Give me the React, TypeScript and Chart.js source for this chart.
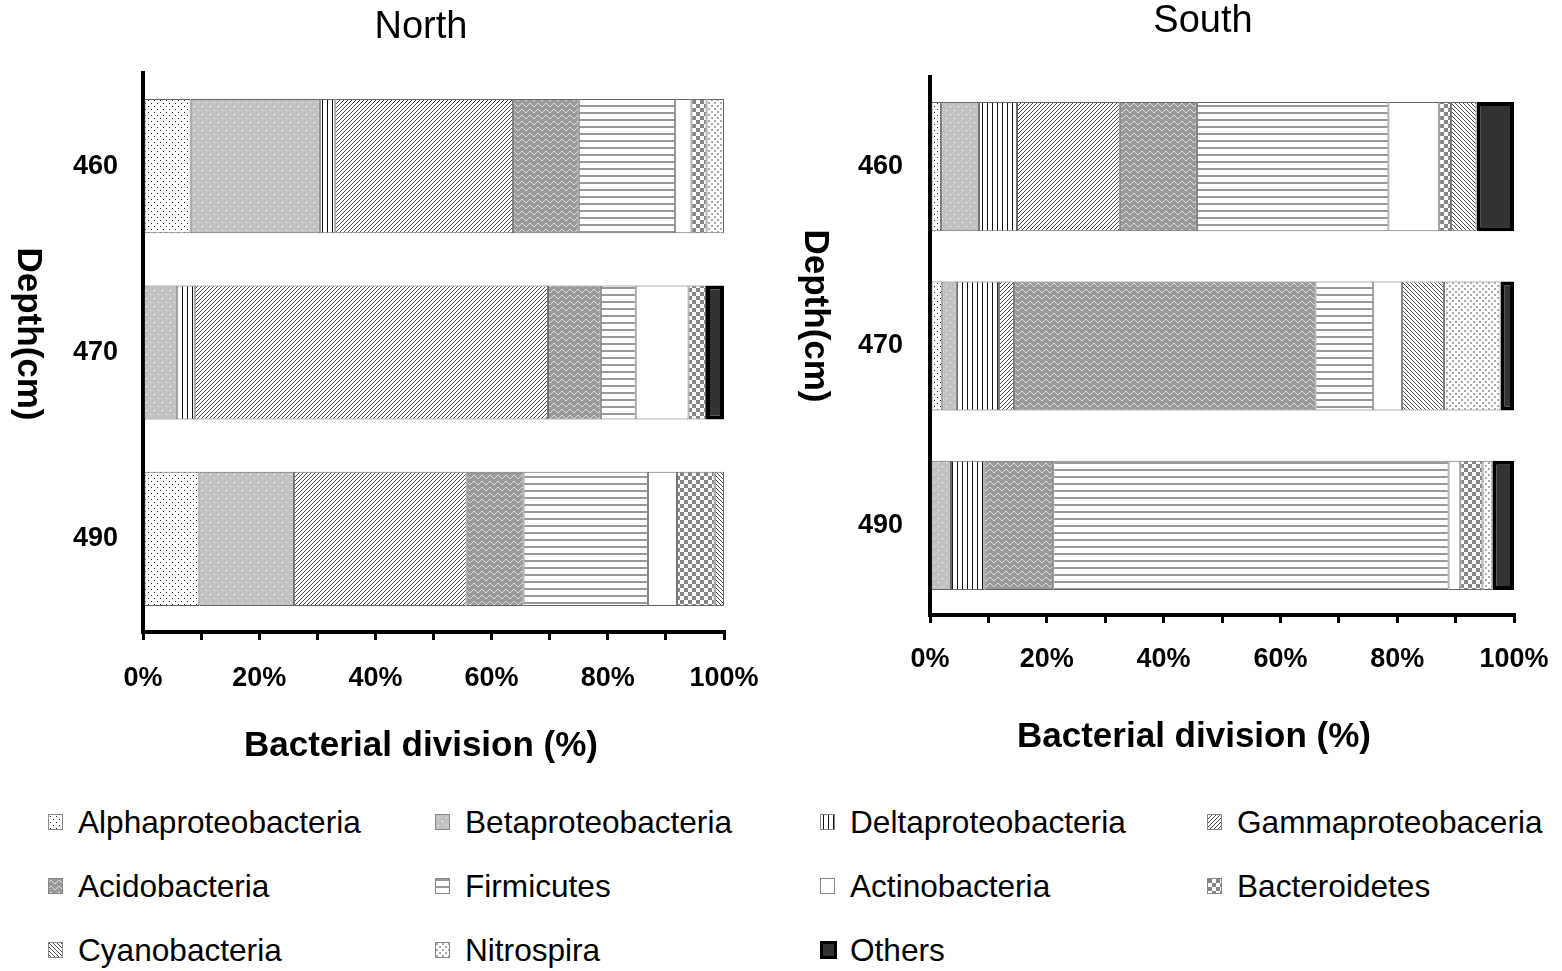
import React, { useEffect, useMemo, useRef } from 'react';
import { Chart, registerables } from 'chart.js';

Chart.register(...registerables);

const FAMILY = "'Liberation Sans', Arial, sans-serif";

// ---------- data ----------
const depthLabels = ['460', '470', '490'];
const xTickLabels = ['0%', '20%', '40%', '60%', '80%', '100%'];
const divisionNames = [
  'Alphaproteobacteria',
  'Betaproteobacteria',
  'Deltaproteobacteria',
  'Gammaproteobaceria',
  'Acidobacteria',
  'Firmicutes',
  'Actinobacteria',
  'Bacteroidetes',
  'Cyanobacteria',
  'Nitrospira',
  'Others',
];
const patternKeys = ['alpha', 'beta', 'delta', 'gamma', 'acido', 'firm', 'actino', 'bactero', 'cyano', 'nitro', 'others'];

// North, depths 460 / 470 / 490 (%)
const northAlpha = [8.2, 0, 9.7];
const northBeta = [22.3, 5.9, 16.3];
const northDelta = [2.6, 3.0, 0];
const northGamma = [30.6, 60.8, 29.7];
const northAcido = [11.3, 9.1, 9.8];
const northFirm = [16.6, 6.0, 21.4];
const northActino = [2.8, 9.1, 5.0];
const northBactero = [2.6, 3.0, 6.5];
const northCyano = [0, 0, 1.6];
const northNitro = [3.0, 0, 0];
const northOthers = [0, 3.1, 0];

// South, depths 460 / 470 / 490 (%)
const southAlpha = [1.9, 2.1, 0];
const southBeta = [6.5, 2.5, 3.6];
const southDelta = [6.5, 7.2, 5.7];
const southGamma = [17.6, 2.6, 0];
const southAcido = [13.2, 51.6, 11.8];
const southFirm = [32.8, 9.9, 67.7];
const southActino = [8.7, 4.9, 2.0];
const southBactero = [2.0, 0, 3.8];
const southCyano = [4.4, 7.2, 0];
const southNitro = [0, 9.7, 1.7];
const southOthers = [6.4, 2.3, 3.7];

const northSeries = [northAlpha, northBeta, northDelta, northGamma, northAcido, northFirm, northActino, northBactero, northCyano, northNitro, northOthers];
const southSeries = [southAlpha, southBeta, southDelta, southGamma, southAcido, southFirm, southActino, southBactero, southCyano, southNitro, southOthers];

// ---------- patterns ----------
function makeTile(key: string): HTMLCanvasElement {
  const c = document.createElement('canvas');
  const ctx = c.getContext('2d') as CanvasRenderingContext2D;
  const set = (w: number, h: number, bg: string) => {
    c.width = w;
    c.height = h;
    ctx.fillStyle = bg;
    ctx.fillRect(0, 0, w, h);
  };
  const dot = (x: number, y: number, col: string, w = 1, h = 1) => {
    ctx.fillStyle = col;
    ctx.fillRect(x, y, w, h);
  };
  switch (key) {
    case 'alpha':
      set(6, 6, '#ffffff');
      dot(1, 1, '#222');
      dot(4, 4, '#222');
      break;
    case 'beta':
      set(8, 8, '#c2c2c2');
      dot(2, 2, '#fff');
      dot(6, 6, '#fff');
      break;
    case 'delta':
      set(5, 1, '#ffffff');
      dot(2, 0, '#111');
      break;
    case 'gamma':
      set(4, 4, '#ffffff');
      for (let i = 0; i < 4; i++) dot(i, 3 - i, '#4a4a4a');
      break;
    case 'acido': {
      set(8, 6, '#9a9a9a');
      const wave = [2, 1, 1, 2, 3, 4, 4, 3];
      for (let i = 0; i < 8; i++) dot(i, wave[i], '#dadada');
      break;
    }
    case 'firm':
      set(1, 7, '#ffffff');
      dot(0, 0, '#999', 1, 2);
      break;
    case 'actino':
      set(2, 2, '#ffffff');
      break;
    case 'bactero':
      set(8, 8, '#ffffff');
      dot(0, 0, '#858585', 4, 4);
      dot(4, 4, '#858585', 4, 4);
      break;
    case 'cyano':
      set(4, 4, '#ffffff');
      for (let i = 0; i < 4; i++) dot(i, i, '#4f4f4f');
      break;
    case 'nitro':
      set(6, 6, '#ffffff');
      dot(0, 0, '#aaa', 2, 2);
      dot(3, 3, '#aaa', 2, 2);
      break;
    default:
      set(2, 2, '#333333');
  }
  return c;
}

// ---------- panel ----------
interface PanelProps {
  left: number;
  width: number;
  height: number;
  series: number[][];
  title: string;
  titleX: number;
  titleY: number;
  xTitleX: number;
  xTitleY: number;
  yTitleX: number;
  yTitleY: number;
  padTop: number;
  padRight: number;
  yAxisWidth: number;
  xAxisHeight: number;
  yLabelPad: number;
  xLabelPad: number;
}

function Panel(p: PanelProps) {
  const ref = useRef<HTMLCanvasElement>(null);
  useEffect(() => {
    const canvas = ref.current as HTMLCanvasElement;
    const ctx = canvas.getContext('2d') as CanvasRenderingContext2D;
    const datasets = divisionNames.map((name, i) => {
      const key = patternKeys[i];
      const isOthers = key === 'others';
      return {
        label: name,
        data: p.series[i],
        backgroundColor: ctx.createPattern(makeTile(key), 'repeat') as any,
        borderColor: isOthers ? '#000000' : '#666666',
        borderWidth: isOthers ? 4 : 1,
        borderSkipped: false as any,
        categoryPercentage: 1,
        barPercentage: 0.72,
      };
    });

    const textPlugin = {
      id: 'panelText',
      afterDraw(chart: any) {
        const c = chart.ctx as CanvasRenderingContext2D;
        c.save();
        c.fillStyle = '#000';
        c.textAlign = 'center';
        c.textBaseline = 'middle';
        c.font = `38px ${FAMILY}`;
        c.fillText(p.title, p.titleX, p.titleY);
        c.font = `bold 35px ${FAMILY}`;
        c.fillText('Bacterial division (%)', p.xTitleX, p.xTitleY);
        c.translate(p.yTitleX, p.yTitleY);
        c.rotate(Math.PI / 2);
        c.fillText('Depth(cm)', 0, 0);
        c.restore();
      },
    };

    const chart = new Chart(canvas, {
      type: 'bar',
      data: { labels: depthLabels, datasets: datasets as any },
      options: {
        animation: false,
        responsive: false,
        indexAxis: 'y',
        layout: { padding: { top: p.padTop, right: p.padRight, left: 0, bottom: 0 } },
        plugins: {
          legend: { display: false },
          tooltip: { enabled: false },
          title: { display: false },
        },
        scales: {
          x: {
            type: 'linear',
            stacked: true,
            min: 0,
            max: 100,
            position: 'bottom',
            ticks: {
              stepSize: 10,
              autoSkip: false,
              maxRotation: 0,
              padding: p.xLabelPad,
              color: '#000',
              font: { family: FAMILY, size: 27, weight: 'bold' },
              callback: (v: any) => (Number(v) % 20 === 0 ? xTickLabels[Number(v) / 20] : ''),
            },
            grid: {
              display: true,
              drawOnChartArea: false,
              drawTicks: true,
              tickLength: 8,
              tickWidth: 3,
              tickColor: '#000',
              color: '#000',
              lineWidth: 3,
            },
            border: { display: true, color: '#000', width: 4 },
            afterFit: (s: any) => {
              s.height = p.xAxisHeight;
              s.paddingLeft = 0;
              s.paddingRight = 0;
            },
          },
          y: {
            type: 'category',
            stacked: true,
            position: 'left',
            ticks: {
              padding: p.yLabelPad,
              color: '#000',
              font: { family: FAMILY, size: 27, weight: 'bold' },
            },
            grid: { display: false },
            border: { display: true, color: '#000', width: 4 },
            afterFit: (s: any) => {
              s.width = p.yAxisWidth;
              s.paddingTop = 0;
              s.paddingBottom = 0;
            },
          },
        },
      } as any,
      plugins: [textPlugin],
    });
    return () => chart.destroy();
  }, []);
  return (
    <canvas
      ref={ref}
      width={p.width}
      height={p.height}
      style={{ position: 'absolute', left: p.left, top: 0, width: p.width, height: p.height }}
    />
  );
}

// ---------- legend ----------
const legendColX = [48, 435, 820, 1207];
const legendRowY = [822, 886, 950];

function Legend() {
  const tiles = useMemo(() => patternKeys.map((k) => makeTile(k).toDataURL()), []);
  return (
    <>
      {divisionNames.map((name, i) => {
        const col = i % 4;
        const row = Math.floor(i / 4);
        const isOthers = patternKeys[i] === 'others';
        return (
          <div
            key={name}
            style={{
              position: 'absolute',
              left: legendColX[col],
              top: legendRowY[row] - 20,
              height: 40,
              display: 'flex',
              alignItems: 'center',
              whiteSpace: 'nowrap',
            }}
          >
            <div
              style={{
                width: isOthers ? 17 : 15,
                height: isOthers ? 18 : 16,
                backgroundImage: `url(${tiles[i]})`,
                border: isOthers ? '3px solid #000' : '1px solid #888',
                boxSizing: 'border-box',
                marginRight: isOthers ? 13 : 15,
              }}
            />
            <span style={{ fontFamily: FAMILY, fontSize: 31.6, lineHeight: '40px', color: '#000' }}>{name}</span>
          </div>
        );
      })}
    </>
  );
}

export default function App() {
  return (
    <div style={{ position: 'absolute', left: 0, top: 0, width: 1562, height: 971, background: '#fff', overflow: 'hidden' }}>
      <Panel
        left={0}
        width={780}
        height={790}
        series={northSeries}
        title="North"
        titleX={421}
        titleY={28}
        xTitleX={421}
        xTitleY={746}
        yTitleX={28}
        yTitleY={334}
        padTop={73}
        padRight={56}
        yAxisWidth={143}
        xAxisHeight={158}
        yLabelPad={17}
        xLabelPad={22}
      />
      <Panel
        left={780}
        width={782}
        height={790}
        series={southSeries}
        title="South"
        titleX={423}
        titleY={22}
        xTitleX={414}
        xTitleY={737}
        yTitleX={35}
        yTitleY={316}
        padTop={77}
        padRight={48}
        yAxisWidth={150}
        xAxisHeight={175}
        yLabelPad={19}
        xLabelPad={20}
      />
      <Legend />
    </div>
  );
}
